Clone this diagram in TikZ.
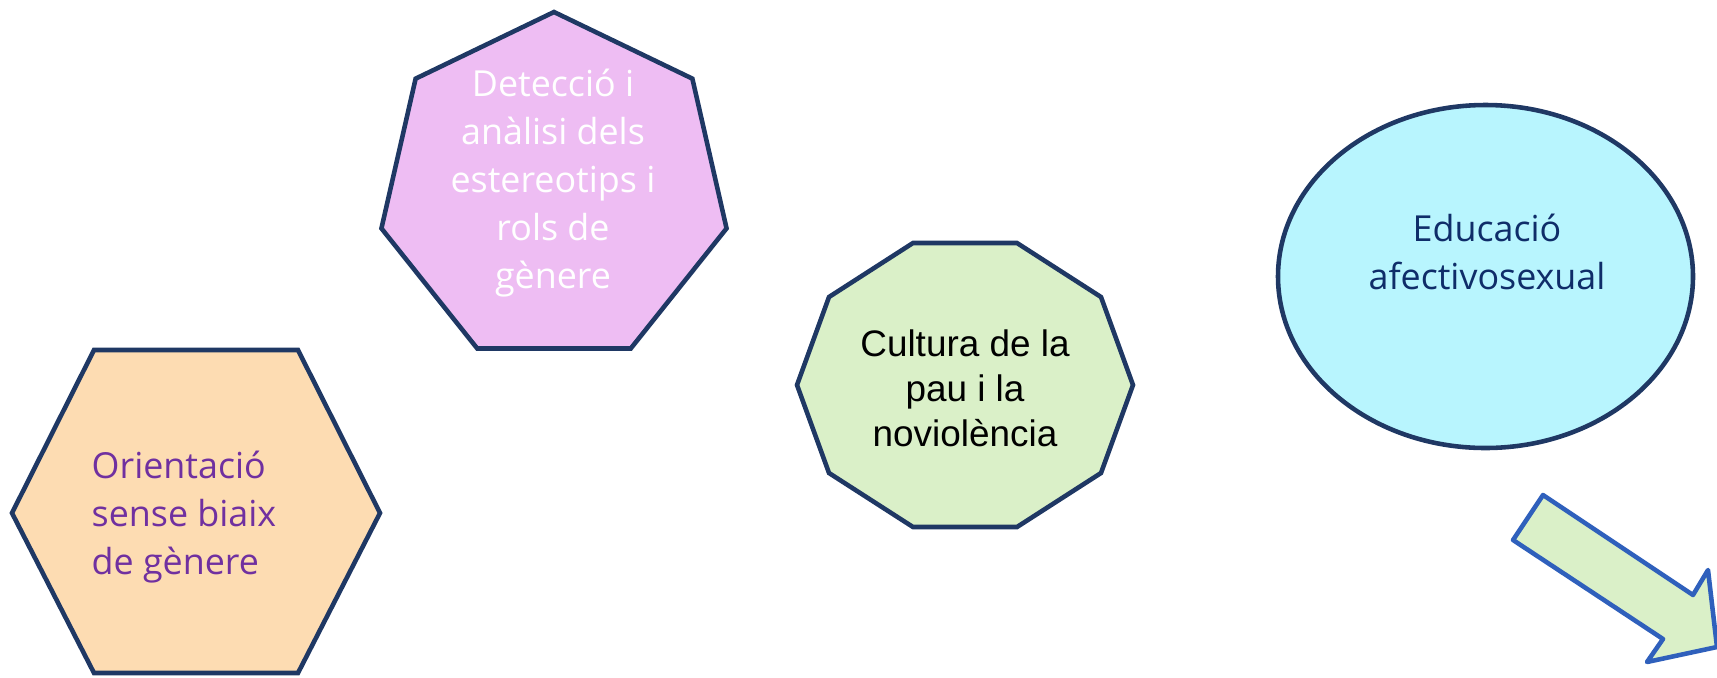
\documentclass[tikz,border=0pt]{standalone}
\usepackage{tikz, tkz-euclide, xcolor}
\usepackage{fontspec}
\setsansfont{Open Sans}
\newfontfamily\arialfont{Liberation Sans}

\definecolor{navyline}{HTML}{1F3864}
\definecolor{arrowline}{HTML}{2F60BC}
\definecolor{peach}{HTML}{FDDCB2}
\definecolor{lilac}{HTML}{EEBDF3}
\definecolor{palegreen}{HTML}{DAF0C8}
\definecolor{paleblue}{HTML}{B8F5FE}
\definecolor{textpurple}{HTML}{7030A0}
\definecolor{textnavy}{HTML}{0F2D69}

\tikzset{
    shapeline/.style={draw=navyline, line width=1.3pt, line join=miter},
    arrowshape/.style={draw=arrowline, line width=1.3pt, fill=palegreen},
    aptostext/.style={font=\sffamily\fontsize{10.2}{13.6}\selectfont, inner sep=0pt},
    arialtext/.style={font=\arialfont\fontsize{10.5}{12.8}\selectfont, inner sep=0pt}
}

\begin{document}
\begin{tikzpicture}
    \useasboundingbox (0,0) rectangle (17.17,6.77);
    \clip (0,0) rectangle (17.17,6.77);
    % hexagon
    \tkzDefPoints{0.12/1.64/A1, 0.94/3.27/A2, 2.98/3.27/A3, 3.80/1.64/A4, 2.98/0.04/A5, 0.94/0.04/A6}
    \tkzDrawPolygon[shapeline, fill=peach](A1,A2,A3,A4,A5,A6)
    % heptagon
    \tkzDefPoint(5.54,4.88){O}
    \foreach \k in {1,...,7}{
        \tkzDefShiftPoint[O]({90+(\k-1)*360/7}:1.77){H\k}
    }
    \tkzDrawPolygon[shapeline, fill=lilac](H1,H2,H3,H4,H5,H6,H7)
    % decagon
    \tkzDefPoints{11.33/2.92/D1, 11.01/3.80/D2, 10.17/4.34/D3, 9.13/4.34/D4, 8.29/3.80/D5,
        7.97/2.92/D6, 8.29/2.04/D7, 9.13/1.50/D8, 10.17/1.50/D9, 11.01/2.04/D10}
    \tkzDrawPolygon[shapeline, fill=palegreen](D1,D2,D3,D4,D5,D6,D7,D8,D9,D10)
    % ellipse
    \tkzDefPoint(14.855,4.005){E}
    \draw[shapeline, fill=paleblue] (E) ellipse [x radius=2.075, y radius=1.715];
    % arrow
    \tkzDefPoints{15.43/1.82/R1, 15.13/1.37/R2, 16.63/0.38/R3, 16.47/0.15/R4,
        17.17/0.30/R5, 17.08/1.07/R6, 16.93/0.82/R7}
    \tkzDrawPolygon[arrowshape](R1,R2,R3,R4,R5,R6,R7)

    \node[aptostext, text=textpurple, align=left] (orient) at (1.84,1.60)
        {Orientació\\sense biaix\\de gènere};
    \node[aptostext, text=white, align=center] (detect) at (5.53,4.94)
        {Detecció i\\anàlisi dels\\estereotips i\\rols de\\gènere};
    \node[arialtext, text=black, align=center] (pau) at (9.65,2.89)
        {Cultura de la\\pau i la\\noviolència};
    \node[aptostext, text=textnavy, align=center] (educ) at (14.87,4.25)
        {Educació\\afectivosexual};
\end{tikzpicture}
\end{document}
